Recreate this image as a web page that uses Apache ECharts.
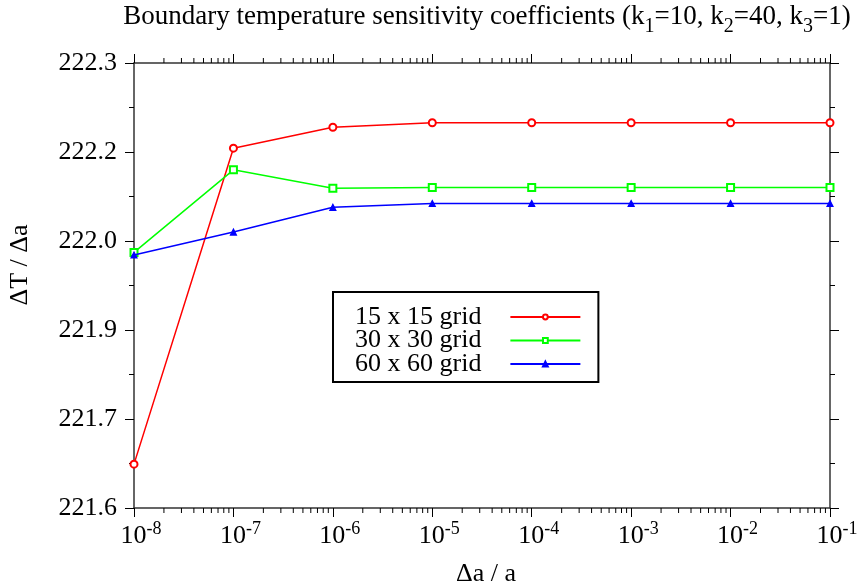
<!DOCTYPE html>
<html><head><meta charset="utf-8">
<script src="https://cdn.jsdelivr.net/npm/echarts@6/dist/echarts.min.js"></script>
<style>html,body{margin:0;padding:0;background:#fff}#c{width:862px;height:586px}</style>
</head><body><div id="c"></div>
<script>
// ---- data ----
const xValues = [1e-8, 1e-7, 1e-6, 1e-5, 1e-4, 1e-3, 1e-2, 1e-1];
const grid15 = [221.669, 222.166, 222.199, 222.206, 222.206, 222.206, 222.206, 222.206];
const grid30 = [222.002, 222.132, 222.103, 222.104, 222.104, 222.104, 222.104, 222.104];
const grid60 = [221.998, 222.034, 222.073, 222.079, 222.079, 222.079, 222.079, 222.079];
const seriesNames = ['15 x 15 grid', '30 x 30 grid', '60 x 60 grid'];
const seriesColors = ['#ff0000', '#00ff00', '#0000ff'];
const yMin = 221.6, yMax = 222.3, yStep = 0.14;
const xMin = 1e-8, xMax = 1e-1;
const xMinorTicks = [];
for (let d = -8; d <= -2; d++) for (let m = 2; m <= 9; m++) xMinorTicks.push(m * Math.pow(10, d));

const FONT = '"Liberation Serif", "Times New Roman", serif';
const chart = echarts.init(document.getElementById('c'), null, {renderer: 'canvas'});

const axisLineStyle = {color: '#333', width: 1.5};
function xAxisCfg(pos, showLabel) {
  return {
    type: 'log', logBase: 10, min: xMin, max: xMax, position: pos, splitNumber: 7,
    axisLine: {show: true, lineStyle: axisLineStyle},
    axisTick: {show: true, length: 9, lineStyle: {color: '#000', width: 1}},
    splitLine: {show: false},
    axisLabel: {
      show: showLabel, margin: 15,
      formatter: v => '{s| }{b|10}{e|' + Math.round(Math.log10(v)) + '}',
      rich: {
        s: {width: 14, fontSize: 18, lineHeight: 18, verticalAlign: 'bottom'},
        b: {fontSize: 26, fontFamily: FONT, color: '#000', lineHeight: 26, verticalAlign: 'bottom'},
        e: {fontSize: 18, fontFamily: FONT, color: '#000', lineHeight: 18, verticalAlign: 'bottom', padding: [0, 0, 11, 0]}
      }
    }
  };
}
function yAxisCfg(pos, showLabel) {
  return {
    type: 'value', min: yMin, max: yMax, interval: yStep, position: pos,
    axisLine: {show: true, lineStyle: axisLineStyle},
    axisTick: {show: true, length: 9, lineStyle: {color: '#000', width: 1}},
    minorTick: {show: true, splitNumber: 2, length: 5, lineStyle: {color: '#000', width: 1}},
    splitLine: {show: false}, minorSplitLine: {show: false},
    axisLabel: {show: showLabel, margin: 17, fontSize: 26, fontFamily: FONT, color: '#000',
      formatter: v => v.toFixed(1)}
  };
}

const lineSeries = [grid15, grid30, grid60].map((vals, i) => ({
  name: seriesNames[i], type: 'line', xAxisIndex: 0, yAxisIndex: 0,
  data: xValues.map((x, j) => [x, vals[j]]),
  symbol: ['emptyCircle', 'emptyRect', 'triangle'][i],
  symbolSize: [7, 7, 6][i],
  color: seriesColors[i],
  lineStyle: {color: seriesColors[i], width: 1.5},
  itemStyle: {color: seriesColors[i], borderColor: seriesColors[i], borderWidth: 1.2},
  z: 3 + i
}));

const minorTickSeries = {
  type: 'custom', xAxisIndex: 0, yAxisIndex: 0, silent: true, clip: false,
  data: xMinorTicks.map(v => [v, yMin]),
  renderItem(params, api) {
    const cs = params.coordSys;
    const x = api.coord([api.value(0), yMin])[0];
    const yb = cs.y + cs.height, yt = cs.y;
    return {type: 'group', children: [
      {type: 'line', shape: {x1: x, y1: yb, x2: x, y2: yb + 5}, style: {stroke: '#000', lineWidth: 1}},
      {type: 'line', shape: {x1: x, y1: yt, x2: x, y2: yt - 5}, style: {stroke: '#000', lineWidth: 1}}
    ]};
  }
};

chart.setOption({
  animation: false,
  backgroundColor: '#fff',
  grid: {left: 134, right: 32, top: 63, bottom: 78, containLabel: false},
  xAxis: [xAxisCfg('bottom', true), xAxisCfg('top', false)],
  yAxis: [yAxisCfg('left', true), yAxisCfg('right', false)],
  legend: {
    orient: 'vertical', left: 333, top: 292, align: 'right',
    itemWidth: 70, itemHeight: 6, itemGap: -2.5,
    padding: [12, 17, 5, 22],
    borderColor: '#000', borderWidth: 2, backgroundColor: '#fff', borderRadius: 0,
    data: seriesNames, selectedMode: false,
    formatter: n => '{t|' + n + '}{s| }',
    textStyle: {lineHeight: 22, fontSize: 26, fontFamily: FONT, rich: {
      t: {fontSize: 26, fontFamily: FONT, color: '#000', lineHeight: 22},
      s: {width: 24, fontSize: 10, lineHeight: 10}
    }}
  },
  graphic: [
    {type: 'text', x: 487, y: 23, style: {
      text: '{a|Boundary temperature sensitivity coefficients (k}{s|1}{a|=10, k}{s|2}{a|=40, k}{s|3}{a|=1)}',
      align: 'center', verticalAlign: 'middle',
      rich: {
        a: {fontSize: 27, fontFamily: FONT, fill: '#000', lineHeight: 27, verticalAlign: 'bottom', padding: [0, 0, 6, 0]},
        s: {fontSize: 20, fontFamily: FONT, fill: '#000', lineHeight: 20, verticalAlign: 'bottom'}
      }
    }},
    {type: 'text', x: 486, y: 574, style: {text: 'Δa / a', fontSize: 26, fontFamily: FONT, fill: '#000', align: 'center', verticalAlign: 'middle'}},
    {type: 'text', x: 20, y: 265, rotation: Math.PI / 2, style: {text: 'ΔT / Δa', fontSize: 26, fontFamily: FONT, fill: '#000', align: 'center', verticalAlign: 'middle'}}
  ],
  series: [...lineSeries, minorTickSeries]
});
</script></body></html>
